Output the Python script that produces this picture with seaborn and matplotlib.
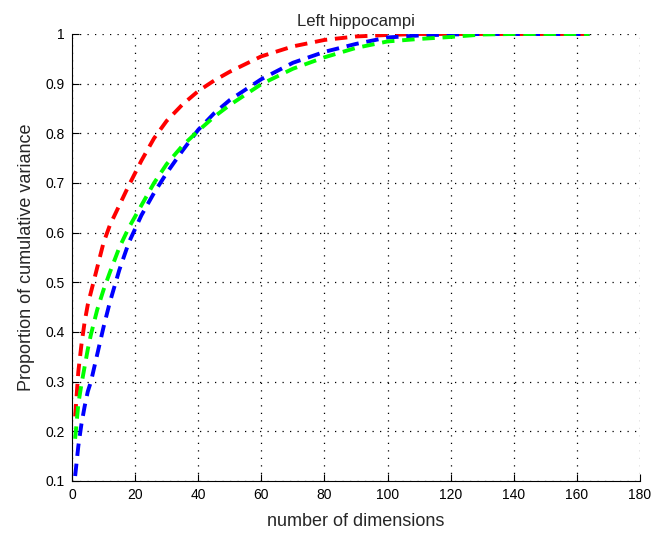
import numpy as np
import pandas as pd
import matplotlib
matplotlib.use("Agg")
import matplotlib.pyplot as plt
import seaborn as sns

dims = [1, 2, 3, 4, 5, 6, 8, 10, 12, 15, 18, 22, 26, 30, 35, 40, 45, 50,
        60, 70, 80, 90, 100, 110, 120, 130, 140, 150, 164]

# cumulative proportion of variance, one list per curve
red_vals = [0.23, 0.32, 0.375, 0.42, 0.455, 0.48, 0.53, 0.58, 0.615, 0.655, 0.695,
            0.745, 0.79, 0.825, 0.858, 0.885, 0.906, 0.924, 0.955, 0.975, 0.988,
            0.995, 0.998, 1.0, 1.0, 1.0, 1.0, 1.0, 1.0]
blue_vals = [0.11, 0.17, 0.215, 0.25, 0.28, 0.30, 0.355, 0.41, 0.46, 0.525, 0.58,
             0.635, 0.68, 0.72, 0.765, 0.807, 0.84, 0.867, 0.909, 0.942, 0.964,
             0.98, 0.993, 0.997, 0.999, 1.0, 1.0, 1.0, 1.0]
green_vals = [0.185, 0.255, 0.295, 0.33, 0.365, 0.395, 0.445, 0.485, 0.52, 0.57, 0.61,
              0.655, 0.70, 0.738, 0.775, 0.805, 0.833, 0.857, 0.899, 0.93, 0.953,
              0.972, 0.985, 0.99, 0.994, 0.999, 1.0, 1.0, 1.0]

x_ticks = [0, 20, 40, 60, 80, 100, 120, 140, 160, 180]
y_ticks = [0.1, 0.2, 0.3, 0.4, 0.5, 0.6, 0.7, 0.8, 0.9, 1.0]
y_tick_labels = ['0.1', '0.2', '0.3', '0.4', '0.5', '0.6', '0.7', '0.8', '0.9', '1']

df = pd.concat([
    pd.DataFrame({'dims': dims, 'variance': red_vals, 'group': 'red'}),
    pd.DataFrame({'dims': dims, 'variance': blue_vals, 'group': 'blue'}),
    pd.DataFrame({'dims': dims, 'variance': green_vals, 'group': 'green'}),
])

sns.set_style("white")
plt.rcParams['font.family'] = ['Liberation Sans', 'DejaVu Sans']
plt.rcParams['xtick.direction'] = 'in'
plt.rcParams['ytick.direction'] = 'in'
plt.rcParams['xtick.bottom'] = True
plt.rcParams['ytick.left'] = True

fig = plt.figure(figsize=(6.51, 5.37), dpi=100)
ax = fig.add_axes([0.1106, 0.1043, 0.983 - 0.1106, 0.9367 - 0.1043])

palette = {'red': '#ff0000', 'blue': '#0000ff', 'green': '#00ff00'}
ax = sns.lineplot(data=df, x='dims', y='variance', hue='group', palette=palette,
                  linewidth=2.8, legend=False, ax=ax)
for line in ax.lines:
    line.set_dashes((3.2, 2.0))
    line.set_dash_capstyle('butt')

ax.set_xlim(0, 180)
ax.set_ylim(0.1, 1.0)
ax.set_xticks(x_ticks)
ax.set_yticks(y_ticks)
ax.set_yticklabels(y_tick_labels)
ax.tick_params(axis='both', labelsize=10, length=5, width=0.8, colors='black', pad=5,
               bottom=True, left=True)

ax.grid(True, color='black', linestyle=(0, (1, 5)), linewidth=0.9)
ax.spines['top'].set_visible(False)
ax.spines['right'].set_visible(False)
ax.spines['left'].set_color('black')
ax.spines['bottom'].set_color('black')

ax.set_xlabel('number of dimensions', fontsize=13, labelpad=8)
ax.set_ylabel('Proportion of cumulative variance', fontsize=13, labelpad=8)
ax.set_title('Left hippocampi', fontsize=12, pad=6)

plt.savefig('out.png', dpi=100)
plt.close()
